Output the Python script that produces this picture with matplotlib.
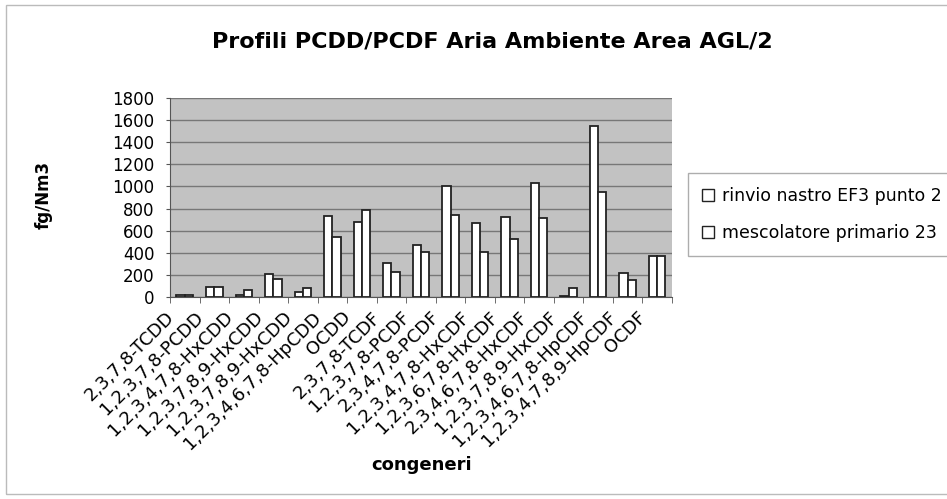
import matplotlib.pyplot as plt
import matplotlib.transforms as mtransforms
import numpy as np
from matplotlib.patches import Rectangle

plt.rcParams['font.family'] = ['DejaVu Sans']

congeneri = [
    "2,3,7,8-TCDD", "1,2,3,7,8-PCDD", "1,2,3,4,7,8-HxCDD", "1,2,3,7,8,9-HxCDD",
    "1,2,3,7,8,9-HxCDD", "1,2,3,4,6,7,8-HpCDD", "OCDD", "2,3,7,8-TCDF",
    "1,2,3,7,8-PCDF", "2,3,4,7,8-PCDF", "1,2,3,4,7,8-HxCDF", "1,2,3,6,7,8-HxCDF",
    "2,3,4,6,7,8-HxCDF", "1,2,3,7,8,9-HxCDF", "1,2,3,4,6,7,8-HpCDF",
    "1,2,3,4,7,8,9-HpCDF", "OCDF",
]
rinvio_nastro = [15, 91, 21, 206, 45, 730, 682, 312, 473, 1003, 670, 727, 1030, 9, 1545, 218, 367]
mescolatore = [15, 91, 61, 161, 85, 545, 788, 227, 409, 745, 409, 527, 712, 82, 948, 158, 367]

serie = ["rinvio nastro EF3 punto 2", "mescolatore primario 23"]

fig = plt.figure(figsize=(9.47, 4.99), dpi=100)
ax = fig.add_axes([0.1795, 0.4048, 0.5301, 0.3988])

x = np.arange(len(congeneri))
w = 0.28
ax.set_facecolor('#c2c2c2')
ax.bar(x - w / 2, rinvio_nastro, w, color='white', edgecolor='#222222', linewidth=1.3, label=serie[0], zorder=3)
ax.bar(x + w / 2, mescolatore, w, color='white', edgecolor='#222222', linewidth=1.3, label=serie[1], zorder=3)

ax.set_xlim(-0.5, len(congeneri) - 0.5)
ax.set_ylim(0, 1800)
ax.set_yticks(np.arange(0, 1801, 200))
ax.yaxis.grid(True, color='#777777', linewidth=1.0, zorder=1)
ax.tick_params(axis='y', labelsize=12, length=3, pad=8, color='#555555')

ax.set_xticks(x)
ax.set_xticklabels(congeneri, rotation=45, ha='right', va='top', rotation_mode='anchor', fontsize=13)
ax.tick_params(axis='x', length=0, pad=8)
# Excel pushes the rotated labels a bit to the left of the category centre
shift = mtransforms.ScaledTranslation(-0.20, 0, fig.dpi_scale_trans)
for lab in ax.get_xticklabels():
    lab.set_transform(lab.get_transform() + shift)
ax.set_xticks(np.arange(-0.5, len(congeneri)), minor=True)
ax.tick_params(axis='x', which='minor', length=4, color='#555555')

for s in ['top', 'right']:
    ax.spines[s].set_visible(False)
for s in ['left', 'bottom']:
    ax.spines[s].set_color('#555555')

fig.text(0.52, 0.916, "Profili PCDD/PCDF Aria Ambiente Area AGL/2",
         ha='center', va='center', fontsize=16, fontweight='bold')
fig.text(0.046, 0.609, "fg/Nm3", rotation=90, ha='center', va='center',
         fontsize=12, fontweight='bold')
fig.text(0.445, 0.068, "congeneri", ha='center', va='center',
         fontsize=13, fontweight='bold')

leg = fig.legend(loc='center left', bbox_to_anchor=(0.717, 0.57), fontsize=12.5,
                 frameon=True, fancybox=False, edgecolor='#999999',
                 handlelength=0.7, handleheight=0.7, handletextpad=0.5,
                 labelspacing=1.1, borderpad=0.8)
for h in leg.legend_handles:
    h.set_linewidth(1.0)

fig.patches.append(Rectangle((0.0063, 0.01), 1.2, 0.98, transform=fig.transFigure,
                             fill=False, edgecolor='#bbbbbb', linewidth=1.0))

fig.savefig('out.png', dpi=100)
